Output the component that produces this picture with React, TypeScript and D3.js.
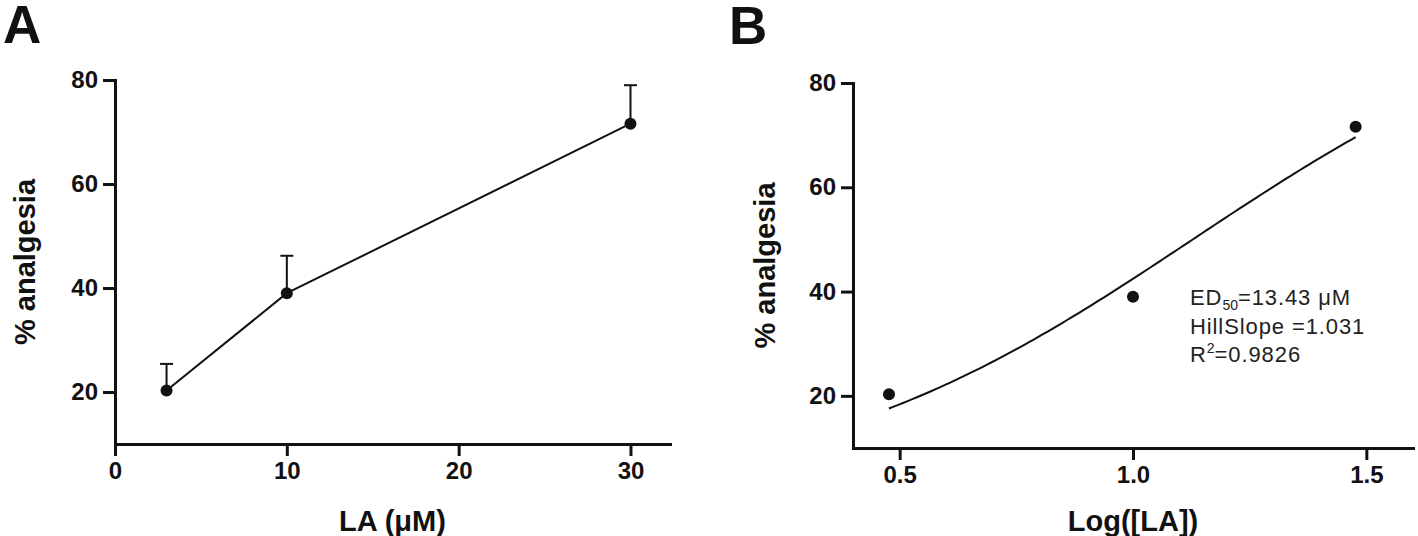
import React, { useRef, useEffect } from 'react';
import * as d3 from 'd3';

// dose (uM), mean % analgesia and SEM
const concentrations = [3, 10, 30];
const analgesia = [20.3, 39.0, 71.6];
const sem = [5.1, 7.2, 7.4];

const xTicksA = [0, 10, 20, 30];
const xTicksB = [0.5, 1.0, 1.5];
const yTicks = [20, 40, 60, 80];

// fit parameters printed on panel B
const ed50 = 13.43;
const hillSlope = 1.031;
const fitBottom = 0;
const fitTop = 100;
const fitLabels = ['ED', '=13.43  \u03bcM', 'HillSlope =1.031', 'R', '=0.9826'];

const FONT = '"Liberation Sans", Arial, Helvetica, sans-serif';

const hill = (x: number) =>
  fitBottom + (fitTop - fitBottom) / (1 + Math.pow(10, (Math.log10(ed50) - x) * hillSlope));

const App = () => {
  const ref = useRef<SVGSVGElement>(null);

  useEffect(() => {
    const svg = d3.select(ref.current);
    svg.selectAll('*').remove();

    const styleAxis = (g: any) => {
      g.selectAll('.domain').attr('stroke', '#111').attr('stroke-width', 3).attr('stroke-linecap', 'square');
      g.selectAll('.tick line').attr('stroke', '#111').attr('stroke-width', 3);
      g.selectAll('.tick text')
        .attr('fill', '#111')
        .style('font-family', FONT)
        .style('font-size', '24px')
        .style('font-weight', 'bold');
    };

    // ---------- Panel A ----------
    const xA = d3.scaleLinear().domain([0, 32.3]).range([115, 670]);
    const yA = d3.scaleLinear().domain([10, 80]).range([444, 80]);

    const gA = svg.append('g');
    gA.append('g')
      .attr('transform', `translate(0,${yA(10)})`)
      .call(d3.axisBottom(xA).tickValues(xTicksA).tickFormat(d3.format('d')).tickSize(12).tickSizeOuter(0).tickPadding(6))
      .call(styleAxis);
    gA.append('g')
      .attr('transform', `translate(${xA(0)},0)`)
      .call(d3.axisLeft(yA).tickValues(yTicks).tickFormat(d3.format('d')).tickSize(12).tickSizeOuter(0).tickPadding(5))
      .call(styleAxis);

    const ptsA = concentrations.map((c, i) => ({ x: c, y: analgesia[i], e: sem[i] }));

    gA.append('path')
      .datum(ptsA)
      .attr('fill', 'none')
      .attr('stroke', '#111')
      .attr('stroke-width', 2)
      .attr('d', d3.line<any>().x(d => xA(d.x)).y(d => yA(d.y)));

    const err = gA.selectAll('.err').data(ptsA).enter().append('g').attr('stroke', '#111').attr('stroke-width', 2);
    err.append('line')
      .attr('x1', d => xA(d.x)).attr('x2', d => xA(d.x))
      .attr('y1', d => yA(d.y)).attr('y2', d => yA(d.y + d.e));
    err.append('line')
      .attr('x1', d => xA(d.x) - 6.5).attr('x2', d => xA(d.x) + 6.5)
      .attr('y1', d => yA(d.y + d.e)).attr('y2', d => yA(d.y + d.e));

    gA.selectAll('.dot').data(ptsA).enter().append('circle')
      .attr('cx', d => xA(d.x)).attr('cy', d => yA(d.y)).attr('r', 6).attr('fill', '#111');

    gA.append('text')
      .attr('x', (xA(0) + xA(32.3)) / 2).attr('y', 531)
      .attr('text-anchor', 'middle')
      .style('font-family', FONT).style('font-size', '29px').style('font-weight', 'bold')
      .attr('fill', '#111')
      .text('LA (\u03bcM)');

    gA.append('text')
      .attr('transform', `translate(35,${(yA(10) + yA(80)) / 2}) rotate(-90)`)
      .attr('text-anchor', 'middle')
      .style('font-family', FONT).style('font-size', '29px').style('font-weight', 'bold')
      .attr('fill', '#111')
      .text('% analgesia');

    gA.append('text')
      .attr('x', 3).attr('y', 43)
      .style('font-family', FONT).style('font-size', '53px').style('font-weight', 'bold')
      .attr('fill', '#111')
      .text('A');

    // ---------- Panel B ----------
    const xB = d3.scaleLinear().domain([0.4, 1.6]).range([853, 1413]);
    const yB = d3.scaleLinear().domain([10, 80]).range([448, 83]);

    const gB = svg.append('g');
    gB.append('g')
      .attr('transform', `translate(0,${yB(10)})`)
      .call(d3.axisBottom(xB).tickValues(xTicksB).tickFormat(d3.format('.1f')).tickSize(12).tickSizeOuter(0).tickPadding(6))
      .call(styleAxis);
    gB.append('g')
      .attr('transform', `translate(${xB(0.4)},0)`)
      .call(d3.axisLeft(yB).tickValues(yTicks).tickFormat(d3.format('d')).tickSize(12).tickSizeOuter(0).tickPadding(5))
      .call(styleAxis);

    const ptsB = concentrations.map((c, i) => ({ x: Math.log10(c), y: analgesia[i] }));
    const lo = Math.log10(concentrations[0]);
    const hi = Math.log10(concentrations[concentrations.length - 1]);
    const curve = d3.range(lo, hi + 1e-9, (hi - lo) / 100).map(x => ({ x, y: hill(x) }));

    gB.append('path')
      .datum(curve)
      .attr('fill', 'none')
      .attr('stroke', '#111')
      .attr('stroke-width', 2)
      .attr('d', d3.line<any>().x(d => xB(d.x)).y(d => yB(d.y)));

    gB.selectAll('.dot').data(ptsB).enter().append('circle')
      .attr('cx', d => xB(d.x)).attr('cy', d => yB(d.y)).attr('r', 6).attr('fill', '#111');

    gB.append('text')
      .attr('x', (xB(0.4) + xB(1.6)) / 2).attr('y', 531)
      .attr('text-anchor', 'middle')
      .style('font-family', FONT).style('font-size', '29px').style('font-weight', 'bold')
      .attr('fill', '#111')
      .text('Log([LA])');

    gB.append('text')
      .attr('transform', `translate(775,${(yB(10) + yB(80)) / 2}) rotate(-90)`)
      .attr('text-anchor', 'middle')
      .style('font-family', FONT).style('font-size', '29px').style('font-weight', 'bold')
      .attr('fill', '#111')
      .text('% analgesia');

    gB.append('text')
      .attr('x', 729).attr('y', 44)
      .style('font-family', FONT).style('font-size', '53px').style('font-weight', 'bold')
      .attr('fill', '#111')
      .text('B');

    // fit annotation
    const ann = gB.append('g')
      .style('font-family', FONT).style('font-size', '22px').style('letter-spacing', '0.9px')
      .attr('fill', '#222');
    const t1 = ann.append('text').attr('x', 1190).attr('y', 305);
    t1.append('tspan').text(fitLabels[0]);
    t1.append('tspan').attr('dy', 5).style('font-size', '14px').style('letter-spacing', '0px').text('50');
    t1.append('tspan').attr('dy', -5).text(fitLabels[1]);
    ann.append('text').attr('x', 1190).attr('y', 334).text(fitLabels[2]);
    const t3 = ann.append('text').attr('x', 1190).attr('y', 362);
    t3.append('tspan').text(fitLabels[3]);
    t3.append('tspan').attr('dy', -9).style('font-size', '14px').style('letter-spacing', '0px').text('2');
    t3.append('tspan').attr('dy', 9).text(fitLabels[4]);
  }, []);

  return (
    <svg
      ref={ref}
      width={1418}
      height={536}
      style={{ position: 'absolute', left: 0, top: 0, background: '#fff' }}
    />
  );
};

export default App;
